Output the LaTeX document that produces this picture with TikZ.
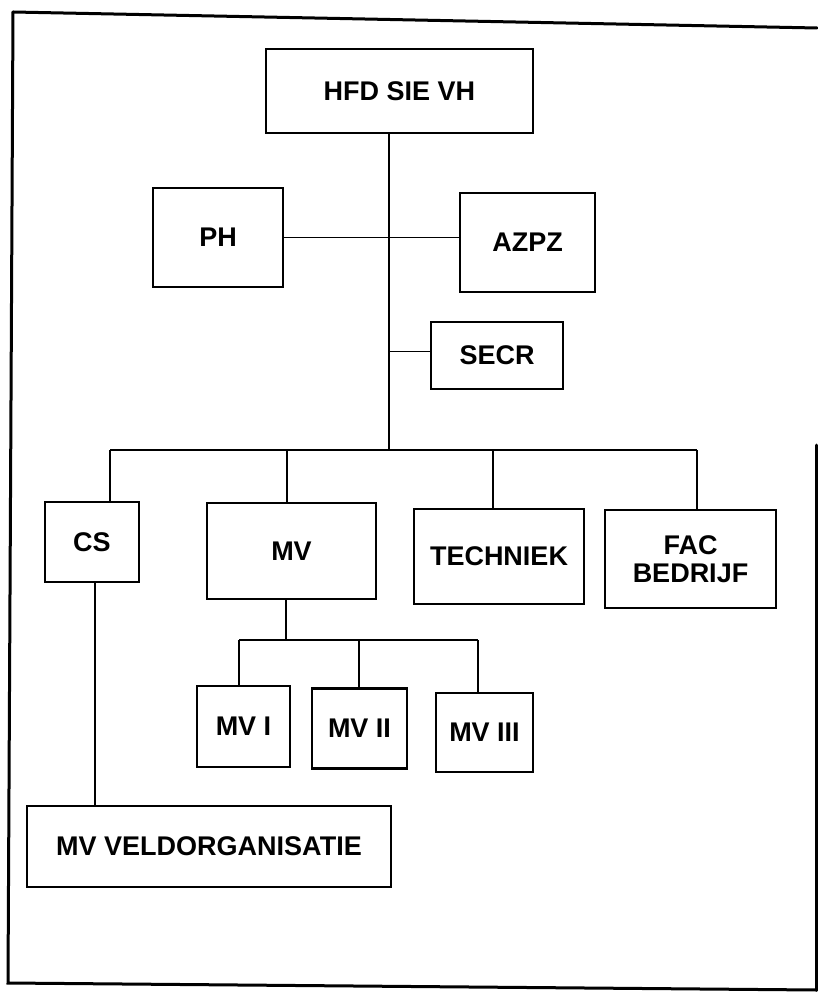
\documentclass[tikz,border=0pt]{standalone}
\usepackage{fontspec}
\setmainfont{Liberation Sans}
\begin{document}
\begin{tikzpicture}[x=1pt,y=-1pt,
  box/.style={draw, line width=2.2pt, inner sep=0pt, align=center,
    font=\fontsize{27}{28.5}\selectfont\bfseries},
  conn/.style={line width=1.7pt},
  frame/.style={line width=3pt, line cap=round}]
\useasboundingbox (0,0) rectangle (817,992);
% frame
\draw[frame] (13,12) -- (817,28);
\draw[frame] (13,12) -- (8,983) -- (817,990);
\draw[frame] (816,445) -- (816,990);
% boxes
\node[box, minimum width=267pt, minimum height=84pt] (hfd) at (399.5,91) {HFD SIE VH};
\node[box, minimum width=130pt, minimum height=99pt] (ph) at (218,237.5) {PH};
\node[box, minimum width=135pt, minimum height=99pt] (azpz) at (527.5,242.5) {AZPZ};
\node[box, minimum width=132pt, minimum height=67pt] (secr) at (497,355.5) {SECR};
\node[box, minimum width=94pt, minimum height=80pt] (cs) at (92,542) {CS};
\node[box, minimum width=169pt, minimum height=96pt] (mv) at (291.5,551) {MV};
\node[box, minimum width=170pt, minimum height=95pt] (tech) at (499,556.5) {TECHNIEK};
\node[box, minimum width=171pt, minimum height=98pt] (fac) at (690.5,559) {FAC\\BEDRIJF};
\node[box, minimum width=93pt, minimum height=81pt] (mv1) at (243.5,726.5) {MV I};
\node[box, minimum width=95pt, minimum height=80pt] (mv2) at (359.5,728.5) {MV II};
\node[box, minimum width=97pt, minimum height=79pt] (mv3) at (484.5,732.5) {MV III};
\node[box, minimum width=364pt, minimum height=81pt] (veld) at (209,846.5) {MV VELDORGANISATIE};
% coordinates
\coordinate (busC) at (389,450);
\coordinate (busL) at (110,450);
\coordinate (busR) at (697,450);
\coordinate (dMV) at (287,450);
\coordinate (dT) at (493,450);
\coordinate (b2C) at (286,640);
\coordinate (b2L) at (239,640);
\coordinate (b2M) at (359,640);
\coordinate (b2R) at (478,640);
\coordinate (csv) at (95,700);
% connectors
\draw[conn] (hfd.south -| busC) -- (busC);
\draw[conn] (ph.east) -- (ph.east -| azpz.west);
\draw[conn] ([yshift=4pt]secr.west) -- ([yshift=4pt]secr.west -| busC);
\draw[conn] (busL) -- (busR);
\draw[conn] (busL) -- (busL |- cs.north);
\draw[conn] (dMV) -- (dMV |- mv.north);
\draw[conn] (dT) -- (dT |- tech.north);
\draw[conn] (busR) -- (busR |- fac.north);
\draw[conn] (b2C |- mv.south) -- (b2C);
\draw[conn] (b2L) -- (b2R);
\draw[conn] (b2L) -- (b2L |- mv1.north);
\draw[conn] (b2M) -- (b2M |- mv2.north);
\draw[conn] (b2R) -- (b2R |- mv3.north);
\draw[conn, line width=2.3pt] (csv |- cs.south) -- (csv |- veld.north);
\end{tikzpicture}
\end{document}
